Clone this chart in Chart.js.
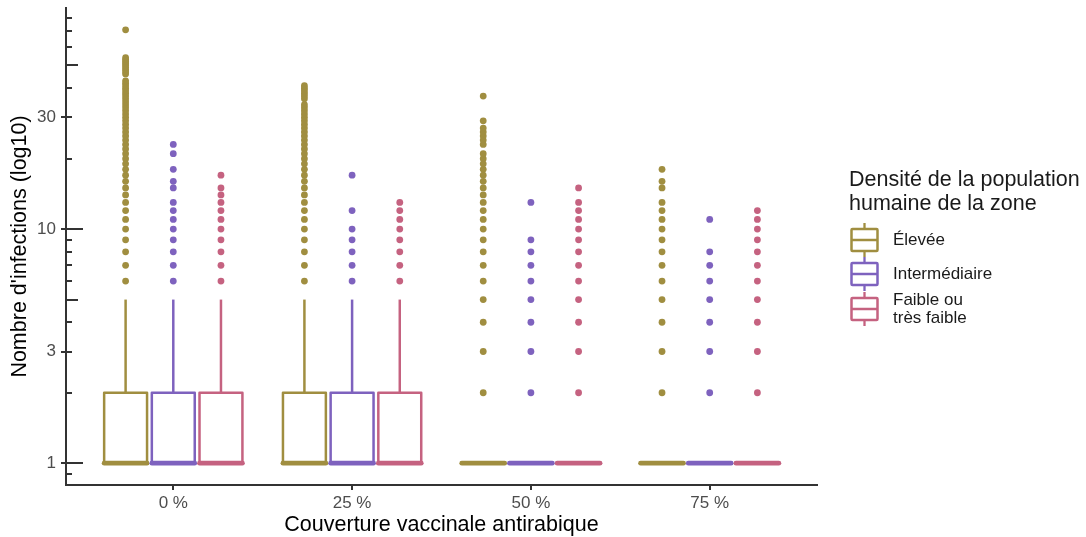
<!DOCTYPE html>
<html>
<head>
<meta charset="utf-8">
<script src="https://cdn.jsdelivr.net/npm/chart.js@4.4.1/dist/chart.umd.min.js"></script>
<style>
  html, body { margin: 0; padding: 0; background: #fff; }
  #wrap { position: relative; width: 1086px; height: 537px; font-family: "Liberation Sans", Arial, sans-serif; }
  #wrap canvas { position: absolute; left: 0; top: 0; }
  #legend { position: absolute; left: 849px; top: 167px; color: #1a1a1a; }
  #legend .ltitle { font-size: 21.5px; line-height: 24px; margin-bottom: 8px; }
  #legend .row { display: flex; align-items: center; min-height: 32px; }
  #legend .row svg { flex: none; margin-right: 13px; }
  #legend .row span { font-size: 17px; line-height: 18px; white-space: pre-line; }
</style>
</head>
<body>
<div id="wrap">
  <canvas id="boxChart" width="1086" height="537"></canvas>
  <div id="legend">
    <div class="ltitle">Densité de la population<br>humaine de la zone</div>
  </div>
</div>
<script>
(function () {
  const categories = ["0 %", "25 %", "50 %", "75 %"];
  const groupNames = ["Élevée", "Intermédiaire", "Faible ou\ntrès faible"];
  const groupColors = ["#A08E40", "#7E62BE", "#C56280"];

  // box statistics: one row per group, one value per category
  const boxQ1 = [[1, 1, 1, 1], [1, 1, 1, 1], [1, 1, 1, 1]];
  const boxMedian = [[1, 1, 1, 1], [1, 1, 1, 1], [1, 1, 1, 1]];
  const boxQ3 = [[2, 2, 1, 1], [2, 2, 1, 1], [2, 2, 1, 1]];
  const whiskerLow = [[1, 1, 1, 1], [1, 1, 1, 1], [1, 1, 1, 1]];
  const whiskerHigh = [[5, 5, 1, 1], [5, 5, 1, 1], [5, 5, 1, 1]];

  // outliers per category
  const outliersElevee = [
    [6, 7, 8, 9, 10, 11, 12, 13, 14, 15, 16, 17, 18, 19, 20, 21, 22, 23, 24, 25, 26, 27, 28, 29, 30,
     31, 32, 33, 34, 35, 36, 37, 38, 39, 40, 41, 42, 43, 46, 47, 48, 49, 50, 51, 52, 53, 54, 71],
    [6, 7, 8, 9, 10, 11, 12, 13, 14, 15, 16, 17, 18, 19, 20, 21, 22, 23, 24, 25, 26, 27, 28, 29, 30,
     31, 32, 33, 34, 36, 37, 38, 39, 40, 41],
    [2, 3, 4, 5, 6, 7, 8, 9, 10, 11, 12, 13, 14, 15, 16, 17, 18, 19, 20, 21, 23, 24, 25, 26, 27, 29, 37],
    [2, 3, 4, 5, 6, 7, 8, 9, 10, 11, 12, 13, 15, 16, 18]
  ];
  const outliersIntermediaire = [
    [6, 7, 8, 9, 10, 11, 12, 13, 15, 16, 18, 21, 23],
    [6, 7, 8, 9, 10, 12, 17],
    [2, 3, 4, 5, 6, 7, 8, 9, 13],
    [2, 3, 4, 5, 6, 7, 8, 11]
  ];
  const outliersFaible = [
    [6, 7, 8, 9, 10, 11, 12, 13, 14, 15, 17],
    [6, 7, 8, 9, 10, 11, 12, 13],
    [2, 3, 4, 5, 6, 7, 8, 9, 10, 11, 12, 13, 15],
    [2, 3, 4, 5, 6, 7, 8, 9, 10, 11, 12]
  ];
  const outliers = [outliersElevee, outliersIntermediaire, outliersFaible];

  const yTickValues = [0.9, 1, 2, 3, 4, 5, 6, 7, 8, 9, 10, 20, 30, 40, 50, 60, 70, 80];
  const yTickLabels = [1, 3, 10, 30];

  const FONT = "'Liberation Sans', Arial, sans-serif";
  const dodge = 0.8;
  const groupOffsets = [-dodge / 3, 0, dodge / 3];
  const boxWidth = dodge / 3 * 0.9;

  const datasets = groupNames.map(function (name, g) {
    const pts = [];
    outliers[g].forEach(function (vals, c) {
      vals.forEach(function (v) {
        pts.push({ x: c + groupOffsets[g], y: v });
      });
    });
    return {
      label: name,
      data: pts,
      backgroundColor: groupColors[g],
      borderWidth: 0,
      pointRadius: 3.4,
      pointHoverRadius: 3.4
    };
  });

  const boxPlugin = {
    id: "boxes",
    beforeDatasetsDraw(chart) {
      const ctx = chart.ctx;
      const x = chart.scales.x;
      const y = chart.scales.y;
      const half = (x.getPixelForValue(boxWidth) - x.getPixelForValue(0)) / 2;
      ctx.save();
      ctx.lineJoin = "round";
      groupNames.forEach(function (name, g) {
        categories.forEach(function (cat, c) {
          const xc = x.getPixelForValue(c + groupOffsets[g]);
          const top = y.getPixelForValue(boxQ3[g][c]);
          const bottom = y.getPixelForValue(boxQ1[g][c]);
          const med = y.getPixelForValue(boxMedian[g][c]);
          ctx.strokeStyle = groupColors[g];
          ctx.lineWidth = 2.5;
          ctx.beginPath();
          ctx.moveTo(xc, top);
          ctx.lineTo(xc, y.getPixelForValue(whiskerHigh[g][c]));
          ctx.moveTo(xc, bottom);
          ctx.lineTo(xc, y.getPixelForValue(whiskerLow[g][c]));
          ctx.stroke();
          ctx.fillStyle = "#fff";
          ctx.fillRect(xc - half, top, half * 2, bottom - top);
          ctx.strokeRect(xc - half, top, half * 2, bottom - top);
          ctx.lineWidth = 4.8;
          ctx.lineCap = "round";
          ctx.beginPath();
          ctx.moveTo(xc - half, med);
          ctx.lineTo(xc + half, med);
          ctx.stroke();
          ctx.lineCap = "butt";
        });
      });
      ctx.restore();
    }
  };

  // inward log ticks on the left axis
  const logTicksPlugin = {
    id: "logTicks",
    afterDraw(chart) {
      const ctx = chart.ctx;
      const y = chart.scales.y;
      const left = chart.chartArea.left;
      ctx.save();
      ctx.strokeStyle = "#333";
      ctx.lineWidth = 2;
      yTickValues.forEach(function (v) {
        const py = Math.round(y.getPixelForValue(v));
        const mant = Math.round(v / Math.pow(10, Math.floor(Math.log10(v) + 1e-9)));
        let len = 6;
        if (mant === 1) len = 17;
        else if (mant === 5) len = 12;
        ctx.beginPath();
        ctx.moveTo(left, py);
        ctx.lineTo(left + len, py);
        ctx.stroke();
      });
      ctx.restore();
    }
  };

  new Chart(document.getElementById("boxChart"), {
    type: "scatter",
    data: { datasets: datasets },
    plugins: [boxPlugin, logTicksPlugin],
    options: {
      responsive: false,
      animation: false,
      events: [],
      layout: { padding: { top: 8, right: 269, left: 0, bottom: 0 } },
      plugins: {
        legend: { display: false },
        tooltip: { enabled: false }
      },
      scales: {
        x: {
          type: "linear",
          min: -0.6,
          max: 3.6,
          afterBuildTicks: function (s) {
            s.ticks = categories.map(function (c, i) { return { value: i }; });
          },
          afterFit: function (s) {
            s.height = 52;
            s.paddingLeft = 0;
            s.paddingRight = 0;
          },
          border: { display: true, color: "#333", width: 2 },
          grid: { drawOnChartArea: false, drawTicks: true, tickLength: 5, lineWidth: 2, color: "#333" },
          ticks: {
            autoSkip: false,
            padding: 3,
            color: "#4D4D4D",
            font: { size: 17, family: FONT },
            callback: function (v) { return categories[v]; }
          },
          title: {
            display: true,
            text: "Couverture vaccinale antirabique",
            color: "#000",
            font: { size: 21.5, family: FONT, lineHeight: 1.1 },
            padding: { top: 0, bottom: 0 }
          }
        },
        y: {
          type: "logarithmic",
          min: 0.807,
          max: 88,
          afterBuildTicks: function (s) {
            s.ticks = yTickValues.map(function (v) { return { value: v }; });
          },
          afterFit: function (s) {
            s.width = 66;
            s.paddingTop = 0;
            s.paddingBottom = 0;
          },
          border: { display: true, color: "#333", width: 2 },
          grid: {
            drawOnChartArea: false,
            drawTicks: true,
            tickLength: 5,
            lineWidth: 2,
            color: function (ctx) {
              return ctx.tick && yTickLabels.includes(ctx.tick.value) ? "#333" : "rgba(0,0,0,0)";
            }
          },
          ticks: {
            autoSkip: false,
            padding: 5,
            color: "#4D4D4D",
            font: { size: 17, family: FONT },
            callback: function (v) { return yTickLabels.includes(v) ? String(v) : ""; }
          },
          title: {
            display: true,
            text: "Nombre d'infections (log10)",
            color: "#000",
            font: { size: 21.5, family: FONT, lineHeight: 1.1 },
            padding: { top: 8, bottom: 0 }
          }
        }
      }
    }
  });

  // legend with box glyphs
  const legend = document.getElementById("legend");
  groupNames.forEach(function (name, g) {
    const row = document.createElement("div");
    row.className = "row";
    const col = groupColors[g];
    row.innerHTML =
      '<svg width="31" height="34" viewBox="0 0 31 34">' +
      '<line x1="15.5" y1="0" x2="15.5" y2="34" stroke="' + col + '" stroke-width="2.3"/>' +
      '<rect x="2.5" y="6" width="26" height="22" rx="1" fill="#fff" stroke="' + col + '" stroke-width="2.5"/>' +
      '<line x1="2.5" y1="17" x2="28.5" y2="17" stroke="' + col + '" stroke-width="2.5"/>' +
      "</svg>";
    const label = document.createElement("span");
    label.textContent = name;
    row.appendChild(label);
    legend.appendChild(row);
  });
})();
</script>
</body>
</html>
